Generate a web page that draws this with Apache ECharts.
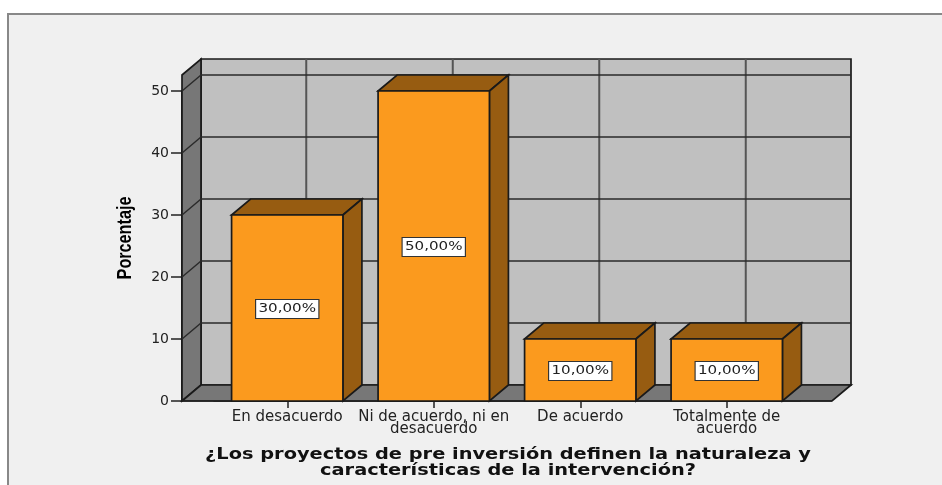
<!DOCTYPE html>
<html>
<head>
<meta charset="utf-8">
<title>Porcentaje</title>
<style>
    html, body { margin: 0; padding: 0; background: #fff; }
    #echart1 { width: 942px; height: 485px; }
</style>
<script src="https://cdn.jsdelivr.net/npm/echarts@6/dist/echarts.min.js"></script>
</head>
<body>
<div id="echart1"></div>
<script>
var categorias = ['En desacuerdo', 'Ni de acuerdo, ni en\ndesacuerdo', 'De acuerdo', 'Totalmente de\nacuerdo'];
var porcentajes = [30, 50, 10, 10];
var etiquetas = ['30,00%', '50,00%', '10,00%', '10,00%'];
var ticksY = [0, 10, 20, 30, 40, 50];
var tituloX = '¿Los proyectos de pre inversión definen la naturaleza y\ncaracterísticas de la intervención?';
var tituloY = 'Porcentaje';

// profundidad del efecto 3D
var dx = 19, dy = -16;
var margenX = 32, margenArriba = 16;

var myChart = echarts.init(document.getElementById('echart1'));

function poly(pts, fill) {
    return {
        type: 'polygon',
        shape: { points: pts },
        style: { fill: fill, stroke: '#1a1a1a', lineWidth: 1.7 }
    };
}
function linea(x1, y1, x2, y2, color, ancho) {
    return {
        type: 'line',
        shape: { x1: x1, y1: y1, x2: x2, y2: y2 },
        style: { stroke: color, lineWidth: ancho }
    };
}

function dibujarFondo(params, api) {
    var g = params.coordSys;
    var x0 = g.x - margenX, x1 = g.x + g.width + margenX;
    var y0 = g.y + g.height, yT = g.y - margenArriba;
    var hijos = [];
    // pared trasera, lateral y piso
    hijos.push(poly([[x0 + dx, yT + dy], [x1 + dx, yT + dy], [x1 + dx, y0 + dy], [x0 + dx, y0 + dy]], '#c0c0c0'));
    hijos.push(poly([[x0, yT], [x0 + dx, yT + dy], [x0 + dx, y0 + dy], [x0, y0]], '#777777'));
    hijos.push(poly([[x0, y0], [x0 + dx, y0 + dy], [x1 + dx, y0 + dy], [x1, y0]], '#777777'));
    // lineas verticales en la pared
    categorias.forEach(function (c, i) {
        var px = api.coord([i, 0])[0] + dx;
        hijos.push(linea(px, yT + dy, px, y0 + dy, '#555', 2));
    });
    // lineas horizontales en pared y lateral
    ticksY.forEach(function (v) {
        var py = api.coord([0, v])[1];
        if (v > 0) {
            hijos.push(linea(x0 + dx, py + dy, x1 + dx, py + dy, '#2a2a2a', 1.5));
            hijos.push(linea(x0, py, x0 + dx, py + dy, '#2a2a2a', 1.5));
        }
    });
    hijos.push(linea(x0, y0, x1, y0, '#222', 1.5));
    return { type: 'group', children: hijos };
}

function dibujarBarra(params, api) {
    var i = api.value(0), v = api.value(1);
    var c = api.coord([i, v]), base = api.coord([i, 0]);
    var w = api.size([1, 0])[0] * 0.76;
    var l = c[0] - w / 2, r = c[0] + w / 2;
    var oscuro = '#975c11';
    return {
        type: 'group',
        children: [
            poly([[l, c[1]], [l + dx, c[1] + dy], [r + dx, c[1] + dy], [r, c[1]]], oscuro),
            poly([[r, c[1]], [r + dx, c[1] + dy], [r + dx, base[1] + dy], [r, base[1]]], oscuro),
            poly([[l, c[1]], [r, c[1]], [r, base[1]], [l, base[1]]], '#fb9a1e'),
            {
                type: 'text',
                x: c[0],
                y: (c[1] + base[1]) / 2 + 1,
                scaleX: 1.16,
                style: {
                    text: etiquetas[params.dataIndex],
                    align: 'center',
                    verticalAlign: 'middle',
                    fill: '#222',
                    font: '13px "DejaVu Sans"',
                    backgroundColor: '#fff',
                    borderColor: '#333',
                    borderWidth: 1,
                    padding: [3, 2, 2, 2]
                }
            }
        ]
    };
}

var option = {
    backgroundColor: '#fff',
    animation: false,
    graphic: [
        {
            type: 'rect',
            z: -10,
            shape: { x: 8, y: 14, width: 1000, height: 600 },
            style: { fill: '#f0f0f0', stroke: '#888', lineWidth: 2 }
        },
        {
            // titulo del eje X, ensanchado como en el original
            type: 'text',
            x: 508,
            y: 463,
            scaleX: 1.21,
            style: {
                text: tituloX,
                align: 'center',
                verticalAlign: 'middle',
                fill: '#111',
                font: 'bold 16px "DejaVu Sans"',
                lineHeight: 16
            }
        },
        {
            // titulo del eje Y, angosto
            type: 'text',
            x: 125,
            y: 238,
            rotation: Math.PI / 2,
            scaleX: 0.81,
            style: {
                text: tituloY,
                align: 'center',
                verticalAlign: 'middle',
                fill: '#000',
                font: 'bold 20px "Liberation Sans"'
            }
        }
    ],
    grid: { left: 214, top: 91, width: 586, height: 310, outerBoundsMode: 'none' },
    xAxis: {
        type: 'category',
        data: categorias,
        axisLine: { show: true, lineStyle: { color: '#222', width: 1.5 } },
        axisTick: { show: true, alignWithLabel: true, length: 7, lineStyle: { color: '#222', width: 1.5 } },
        axisLabel: {
            interval: 0,
            margin: 10,
            color: '#222',
            fontFamily: 'DejaVu Sans',
            fontSize: 15,
            lineHeight: 12
        }
    },
    yAxis: {
        type: 'value',
        min: 0,
        max: 50,
        interval: 10,
        offset: margenX,
        axisLine: { show: true, lineStyle: { color: '#222', width: 2 } },
        axisTick: { show: true, length: 11, lineStyle: { color: '#222', width: 1.5 } },
        axisLabel: { margin: 13, color: '#222', fontFamily: 'DejaVu Sans', fontSize: 14 },
        splitLine: { show: false }
    },
    series: [
        {
            type: 'custom',
            clip: false,
            z: 1,
            silent: true,
            renderItem: dibujarFondo,
            data: [[0, 0]]
        },
        {
            type: 'custom',
            clip: false,
            z: 2,
            renderItem: dibujarBarra,
            encode: { x: 0, y: 1 },
            data: porcentajes.map(function (v, i) { return [i, v]; })
        }
    ]
};

myChart.setOption(option);
window.addEventListener("resize", function () {
    myChart.resize();
});
</script>
</body>
</html>
